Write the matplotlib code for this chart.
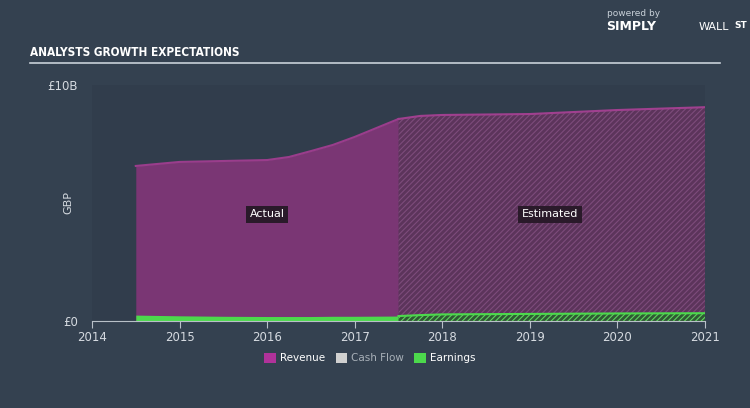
import numpy as np
import matplotlib.pyplot as plt
from matplotlib.patches import Patch

# données (milliards GBP)
annees_reel = [2014.5, 2015, 2015.5, 2016, 2016.25, 2016.5, 2016.75, 2017, 2017.5]
revenu_reel = [6.57, 6.74, 6.78, 6.82, 6.95, 7.2, 7.46, 7.8, 8.56]
benef_reel = [0.25, 0.22, 0.2, 0.19, 0.19, 0.19, 0.2, 0.2, 0.21]

annees_est = [2017.5, 2017.75, 2018, 2019, 2020, 2021]
revenu_est = [8.56, 8.69, 8.73, 8.77, 8.94, 9.06]
benef_est = [0.21, 0.25, 0.28, 0.3, 0.32, 0.33]

cashflow = []  # pas de valeurs visibles
legende = ['Revenue', 'Cash Flow', 'Earnings']
annees_ticks = [2014, 2015, 2016, 2017, 2018, 2019, 2020, 2021]

FOND = '#344150'
FOND_AXE = '#313d4c'
VIOLET = '#7a3674'
VIOLET_EST = '#5c345b'
VERT = '#4cd94c'
TEXTE = '#d5dae0'

plt.rcParams['hatch.linewidth'] = 0.8
fig = plt.figure(figsize=(7.5, 4.08), dpi=100, facecolor=FOND)
ax = fig.add_axes([92/750, 1-321/408, 613/750, 236/408])
ax.set_facecolor(FOND_AXE)

# revenus
ax.fill_between(annees_reel, 0, revenu_reel, color=VIOLET, lw=0)
ax.plot(annees_reel, revenu_reel, color='#9a3d8c', lw=1.5)
ax.fill_between(annees_est, 0, revenu_est, facecolor=VIOLET_EST, edgecolor='#7d4c7b',
                hatch='//////', lw=0)
ax.plot(annees_est, revenu_est, color='#a0408f', lw=1.5)

# bénéfices
ax.fill_between(annees_reel, 0, benef_reel, color=VERT, lw=0)
ax.fill_between(annees_est, 0, benef_est, facecolor='#2f5a33', edgecolor='#5fd45f',
                hatch='//////', lw=0)
ax.plot(annees_est, benef_est, color=VERT, lw=1.5)

ax.set_xlim(2014, 2021)
ax.set_ylim(0, 10)
ax.set_xticks(annees_ticks)
ax.set_xticklabels([str(a) for a in annees_ticks], color=TEXTE, fontsize=8.5)
ax.set_yticks([0, 10])
ax.set_yticklabels(['£0', '£10B'], color=TEXTE, fontsize=8.5)
ax.tick_params(axis='x', colors='#b8c0c8', length=5, direction='out', pad=2, labelcolor=TEXTE)
ax.tick_params(axis='y', length=0, pad=10, labelcolor=TEXTE)
for s in ['top', 'right', 'left']:
    ax.spines[s].set_visible(False)
ax.spines['bottom'].set_color('#b8c0c8')
ax.set_ylabel('GBP', color=TEXTE, fontsize=8)
ax.yaxis.set_label_coords(-0.031, 0.5)

ax.text(2016, 4.53, 'Actual', color='white', fontsize=8, ha='center', va='center',
        bbox=dict(facecolor='#2a1a2a', edgecolor='none', pad=2.5))
ax.text(2019.23, 4.53, 'Estimated', color='white', fontsize=8, ha='center', va='center',
        bbox=dict(facecolor='#2a1a2a', edgecolor='none', pad=2.5))

# titre
fig.text(30/750, 1-53/408, 'ANALYSTS GROWTH EXPECTATIONS', color='white', fontsize=8.5,
         fontweight='bold', fontstretch='condensed', va='center', ha='left')
fig.add_artist(plt.Line2D([30/750, 720/750], [1-63/408, 1-63/408], color='#c8d0d8', lw=1.2))

# logo
fig.text(607/750, 1-14/408, 'powered by', color='#c8d0d8', fontsize=6.5, va='center')
fig.text(606/750, 1-27/408, 'SIMPLY', color='white', fontsize=9, fontweight='bold', va='center')
fig.text(699/750, 1-27/408, 'WALL', color='white', fontsize=8, va='center')
fig.text(734/750, 1-26/408, 'ST', color='white', fontsize=6.5, fontweight='bold', va='center')

poignees = [Patch(facecolor='#b0329a'), Patch(facecolor='#d0d0d0'), Patch(facecolor=VERT)]
lg = fig.legend(poignees, legende, loc='center', bbox_to_anchor=(370/750, 1-358/408), ncol=3,
                frameon=False, fontsize=7.5, handlelength=1.1, handleheight=1.1,
                columnspacing=1.0, handletextpad=0.4)
for t, c in zip(lg.get_texts(), ['white', '#a8b0b8', 'white']):
    t.set_color(c)

plt.savefig('out.png', dpi=100, facecolor=FOND)
